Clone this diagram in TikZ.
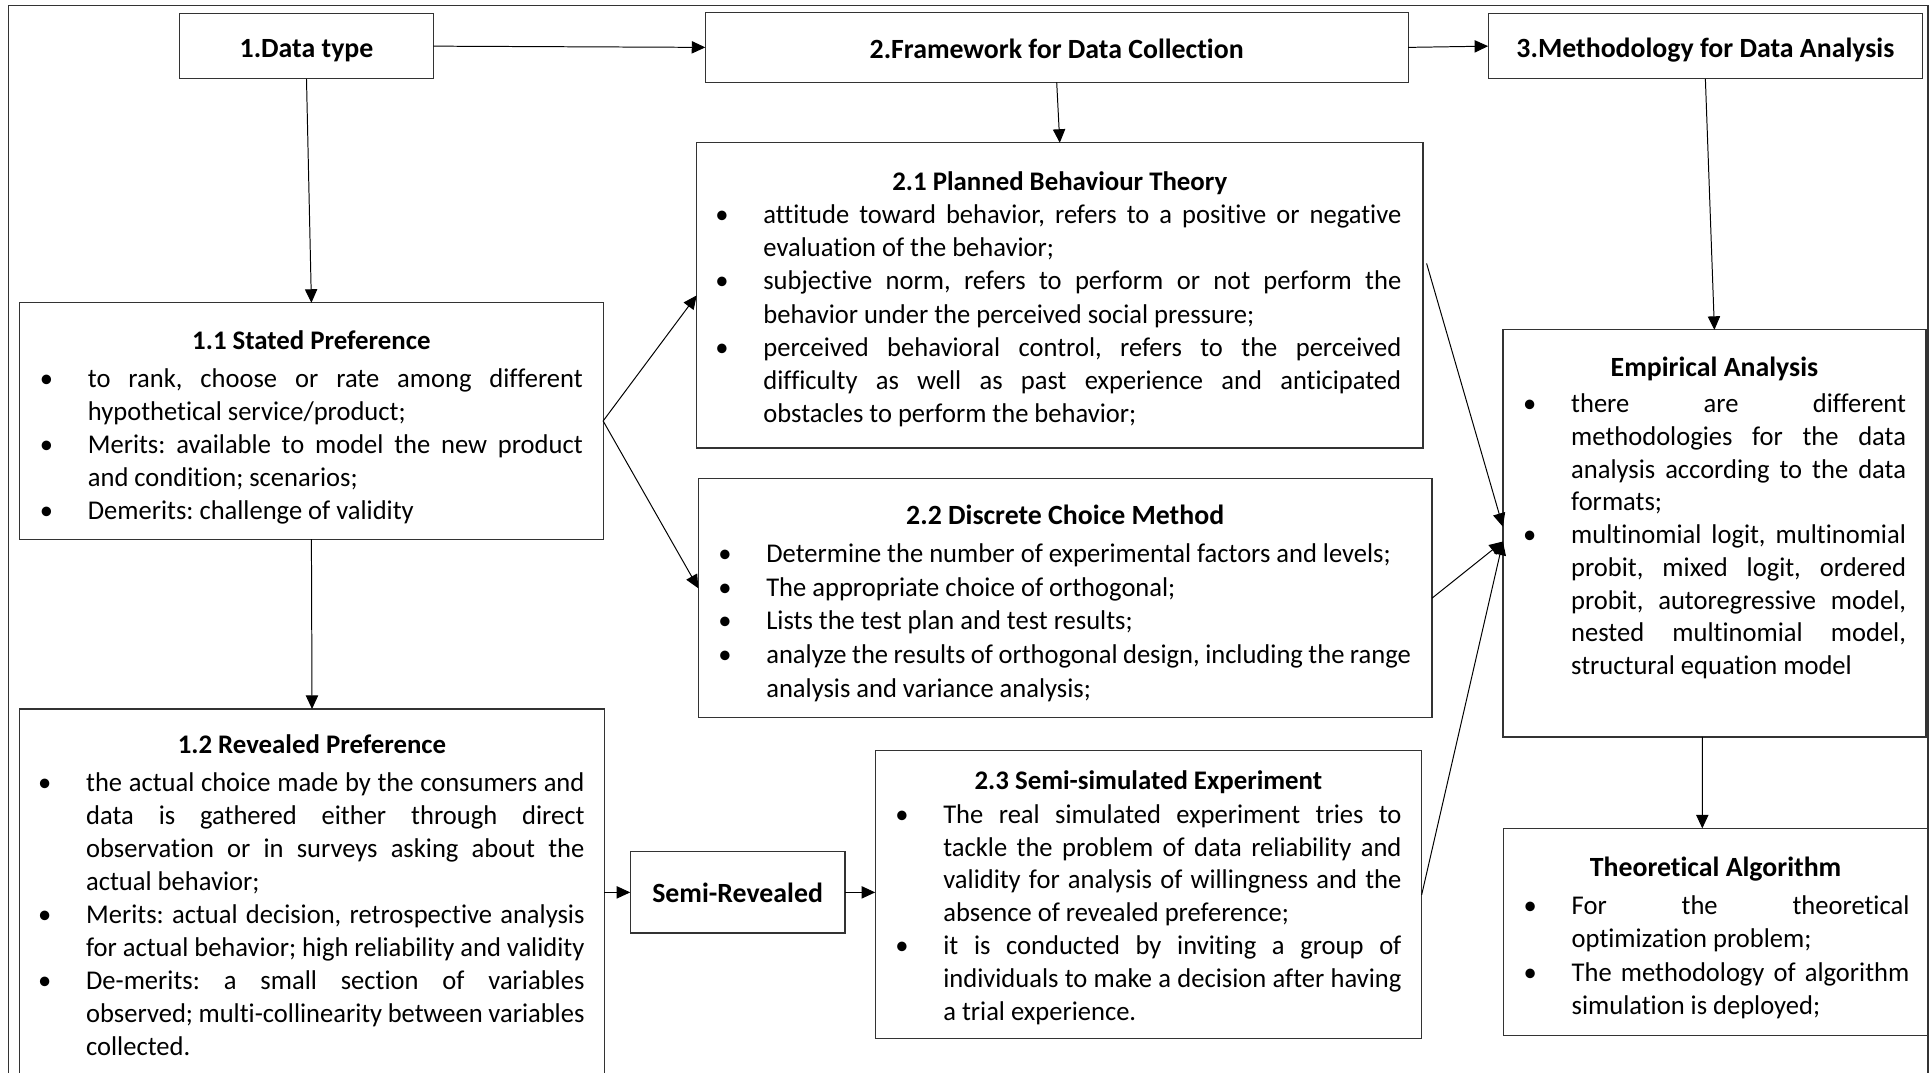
\documentclass[tikz,border=0pt]{standalone}
\usepackage{fontspec}
\setmainfont[Ligatures=NoCommon]{Carlito}
\newfontfamily\bodyfont[FakeStretch=0.98,Ligatures=NoCommon]{Carlito}
\usetikzlibrary{arrows.meta}
\newcommand\bulsym{\llap{\makebox[19.5pt][l]{\textbullet}}}
\newcommand\bjl[1]{\noindent\strut\bulsym\hbox to\hsize{#1}\par}
\newcommand\blast[1]{\noindent\strut\bulsym\hbox{#1}\par}
\newcommand\jl[1]{\noindent\strut\hbox to\hsize{#1}\par}
\newcommand\lastl[1]{\noindent\strut\hbox{#1}\par}
\newcommand\bodyat[6]{\node[anchor=north west,inner sep=0pt,outer sep=0pt,text width=#4,font=\bodyfont\fontsize{11}{#5}\selectfont] (#1) at (#2,{#3-1.4*#5}) {\parskip=0pt\parindent=0pt\frenchspacing\spaceskip=\fontdimen2\font plus 1fil minus .6\fontdimen2\font\relax #6};}
\tikzset{
  x=0.5pt,y=-0.5pt,
  boxst/.style={draw=black!80,line width=0.5pt,inner sep=0pt,outer sep=0pt},
  conn/.style={draw=black,line width=0.4pt,-{Triangle[length=5.5pt,width=5pt]}},
  ttl/.style={anchor=base,inner sep=0pt,font=\fontsize{11.3}{13.4}\selectfont\bfseries},
  ttls/.style={ttl,font=\fontsize{10.9}{13.4}\selectfont\bfseries},
}
\begin{document}
\begin{tikzpicture}
\useasboundingbox (0,0) rectangle (1568,871);
\draw[black!80,line width=0.5pt] (7,4.6) rectangle (1566.4,900);
% header boxes
\node[boxst,minimum width=103pt,minimum height=26.5pt] (b1) at (249,37.5) {};
\node[boxst,minimum width=285.5pt,minimum height=28.5pt] (b2) at (858.5,38.5) {};
\node[boxst,minimum width=176.5pt,minimum height=26.5pt] (b3) at (1385.5,37.5) {};
\node[ttl] (h1) at (249,47) {1.Data type};
\node[ttl] (h2) at (858.5,47.5) {2.Framework for Data Collection};
\node[ttl] (h3) at (1385.5,47) {3.Methodology for Data Analysis};
% content boxes
\node[boxst,minimum width=237pt,minimum height=96pt] (b11) at (253,342) {};
\node[boxst,minimum width=237.5pt,minimum height=162pt] (b12) at (253.5,738) {};
\node[boxst,minimum width=87.25pt,minimum height=33pt] (sr) at (599.25,725) {};
\node[boxst,minimum width=295pt,minimum height=124pt] (b21) at (861,240) {};
\node[boxst,minimum width=298pt,minimum height=97pt] (b22) at (865.4,486) {};
\node[boxst,minimum width=222pt,minimum height=117pt] (b23) at (933,727) {};
\node[boxst,minimum width=171.85pt,minimum height=165.35pt] (ea) at (1392.85,433.35) {};
\node[boxst,minimum width=172.5pt,minimum height=84pt] (ta) at (1393.8,757) {};
% titles
\node[ttls] (t11) at (253,284) {1.1 Stated Preference};
\node[ttls] (t12) at (253.5,612.5) {1.2 Revealed Preference};
\node[ttl] (hsr) at (599.25,733) {Semi-Revealed};
\node[ttls] (t21) at (861,155) {2.1 Planned Behaviour Theory};
\node[ttl] (t22) at (865.4,426) {2.2 Discrete Choice Method};
\node[ttls] (t23) at (933,641.5) {2.3 Semi-simulated Experiment};
\node[ttl] (tea) at (1392.85,306) {Empirical Analysis};
\node[ttl] (tta) at (1393.8,712) {Theoretical Algorithm};
% bodies
\bodyat{x11}{71.4}{314.5}{201pt}{13.4}{%
\bjl{to rank, choose or rate among different}
\lastl{hypothetical service/product;}
\bjl{Merits: available to model the new product}
\lastl{and condition; scenarios;}
\blast{Demerits: challenge of validity}}
\bodyat{x12}{70}{643}{202.4pt}{13.4}{%
\bjl{the actual choice made by the consumers and}
\jl{data is gathered either through direct}
\jl{observation or in surveys asking about the}
\lastl{actual behavior;}
\bjl{Merits: actual decision, retrospective analysis}
\jl{for actual behavior; high reliability and validity}
\bjl{De-merits: a small section of variables}
\jl{observed; multi-collinearity between variables}
\lastl{collected.}}
\bodyat{x21}{620.2}{181.5}{259.1pt}{13.5}{%
\bjl{attitude toward behavior, refers to a positive or negative}
\lastl{evaluation of the behavior;}
\bjl{subjective norm, refers to perform or not perform the}
\lastl{behavior under the perceived social pressure;}
\bjl{perceived behavioral control, refers to the perceived}
\jl{difficulty as well as past experience and anticipated}
\lastl{obstacles to perform the behavior;}}
\bodyat{x22}{622.6}{456.8}{261.85pt}{13.75}{%
\blast{Determine the number of experimental factors and levels;}
\blast{The appropriate choice of orthogonal;}
\blast{Lists the test plan and test results;}
\bjl{analyze the results of orthogonal design, including the range}
\lastl{analysis and variance analysis;}}
\bodyat{x23}{766.4}{668.8}{186.1pt}{13.36}{%
\bjl{The real simulated experiment tries to}
\jl{tackle the problem of data reliability and}
\jl{validity for analysis of willingness and the}
\lastl{absence of revealed preference;}
\bjl{it is conducted by inviting a group of}
\jl{individuals to make a decision after having}
\lastl{a trial experience.}}
\bodyat{xea}{1276.5}{335.2}{136pt}{13.3}{%
\bjl{there are different}
\jl{methodologies for the data}
\jl{analysis according to the data}
\lastl{formats;}
\bjl{multinomial logit, multinomial}
\jl{probit, mixed logit, ordered}
\jl{probit, autoregressive model,}
\jl{nested multinomial model,}
\lastl{structural equation model}}
\bodyat{xta}{1276.9}{742.8}{137.15pt}{13.55}{%
\bjl{For the theoretical}
\lastl{optimization problem;}
\bjl{The methodology of algorithm}
\lastl{simulation is deployed;}}
% connectors
\draw[conn] (b1.east) -- (b2.west);
\draw[conn] (b2.east) -- (b3.west);
\draw[conn] (b1.south) -- (b11.north);
\draw[conn] (b2.south) -- (b21.north);
\draw[conn] (b3.south) -- (ea.north);
\draw[conn] (b11.south) -- (b12.north);
\draw[conn] (b11.east) -- (b21.west);
\draw[conn] (b11.east) -- ([yshift=4pt]b22.west);
\draw[conn] (b12.east |- sr.west) -- (sr.west);
\draw[conn] (sr.east) -- (sr.east -| b23.west);
\draw[conn] ([xshift=1.5pt,yshift=13pt]b21.east) -- ([yshift=2.7pt]ea.west);
\draw[conn] (b22.east) -- ([yshift=-3.3pt]ea.west);
\draw[conn] (b23.east) -- ([yshift=-3.3pt]ea.west);
\draw[conn] ([xshift=-4.9pt]ea.south) -- ([xshift=-5.4pt]ta.north);
\end{tikzpicture}
\end{document}
